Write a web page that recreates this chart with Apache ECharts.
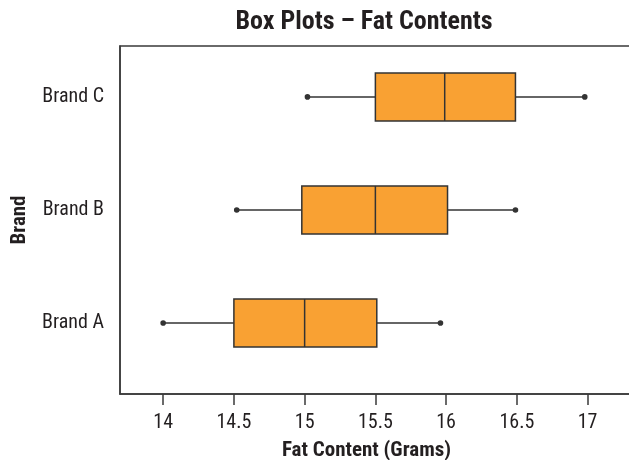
<!DOCTYPE html>
<html>
<head>
<meta charset="utf-8">
<script src="https://cdn.jsdelivr.net/npm/echarts@6/dist/echarts.min.js"></script>
<style>
  html, body { margin: 0; padding: 0; background: #fff; }
  #main { width: 629px; height: 460px; }
</style>
</head>
<body>
<div id="main"></div>
<script>
// box plot values
var brands = ['Brand A', 'Brand B', 'Brand C']
var mins = [14.0, 14.52, 15.02]
var q1s = [14.5, 14.98, 15.5]
var medians = [15.0, 15.5, 15.99]
var q3s = [15.51, 16.01, 16.49]
var maxs = [15.96, 16.49, 16.98]
var xTicks = [14, 14.5, 15, 15.5, 16, 16.5, 17]
var yTicks = [1, 2, 3]

var FONT = '"Roboto Condensed", "Arial Narrow", "Liberation Sans Narrow", "DejaVu Sans Condensed", sans-serif'
var INK = '#231f20'
var LINE = '#333'

var boxData = []
for (var i = 0; i < brands.length; i++) {
    boxData.push([i + 1, mins[i], q1s[i], medians[i], q3s[i], maxs[i]])
}

var renderBox = function(params, api) {
    var yv = api.value(0)
    var pMin = api.coord([api.value(1), yv])
    var pQ1 = api.coord([api.value(2), yv])
    var pMed = api.coord([api.value(3), yv])
    var pQ3 = api.coord([api.value(4), yv])
    var pMax = api.coord([api.value(5), yv])
    var y = pMed[1]
    var half = 24
    var lineStyle = { stroke: LINE, lineWidth: 1.5, fill: null }
    return {
        type: 'group',
        children: [
            { type: 'line', shape: { x1: pMin[0], y1: y, x2: pQ1[0], y2: y }, style: lineStyle },
            { type: 'line', shape: { x1: pQ3[0], y1: y, x2: pMax[0], y2: y }, style: lineStyle },
            { type: 'rect', shape: { x: pQ1[0], y: y - half, width: pQ3[0] - pQ1[0], height: half * 2 },
              style: { fill: '#f9a133', stroke: LINE, lineWidth: 1.5 } },
            { type: 'line', shape: { x1: pMed[0], y1: y - half, x2: pMed[0], y2: y + half }, style: lineStyle },
            { type: 'circle', shape: { cx: pMin[0], cy: y, r: 2.8 }, style: { fill: LINE } },
            { type: 'circle', shape: { cx: pMax[0], cy: y, r: 2.8 }, style: { fill: LINE } }
        ]
    }
}

var mychart = echarts.init(document.getElementById('main'))
mychart.setOption({
    animation: false,
    title: {
        text: 'Box Plots – Fat Contents',
        left: 364,
        top: 9,
        padding: 0,
        textAlign: 'center',
        textStyle: { fontFamily: FONT, fontSize: 26, fontWeight: 'bold', color: INK }
    },
    grid: {
        left: 120,
        right: -6,
        top: 46,
        bottom: 66,
        outerBoundsMode: 'none',
        containLabel: false,
        show: true,
        borderColor: '#3a3a3a',
        borderWidth: 1.5
    },
    xAxis: {
        type: 'value',
        min: 13.695,
        max: 17.335,
        name: 'Fat Content (Grams)',
        nameLocation: 'middle',
        nameGap: 46,
        nameTextStyle: { fontFamily: FONT, fontSize: 21, fontWeight: 'bold', color: INK, padding: [0, 22, 0, 0] },
        axisLine: { show: true, lineStyle: { color: '#3a3a3a', width: 1.5 } },
        axisTick: { show: true, inside: false, length: 11, customValues: xTicks, lineStyle: { color: '#3a3a3a', width: 1.5 } },
        axisLabel: { margin: 19, customValues: xTicks, fontFamily: FONT, fontSize: 20, color: INK },
        splitLine: { show: false }
    },
    yAxis: {
        type: 'value',
        min: 0.372,
        max: 3.45,
        name: 'Brand',
        nameLocation: 'middle',
        nameRotate: 90,
        nameGap: 90,
        nameTextStyle: { fontFamily: FONT, fontSize: 21, fontWeight: 'bold', color: INK },
        axisLine: { show: true, lineStyle: { color: '#3a3a3a', width: 1.5 } },
        axisTick: { show: false },
        axisLabel: {
            margin: 16,
            customValues: yTicks,
            fontFamily: FONT,
            fontSize: 20,
            color: INK,
            formatter: function(v) { return brands[Math.round(v) - 1] }
        },
        splitLine: { show: false }
    },
    series: [
        {
            type: 'custom',
            renderItem: renderBox,
            encode: { y: 0, x: [1, 2, 3, 4, 5] },
            data: boxData
        }
    ]
})
</script>
</body>
</html>
